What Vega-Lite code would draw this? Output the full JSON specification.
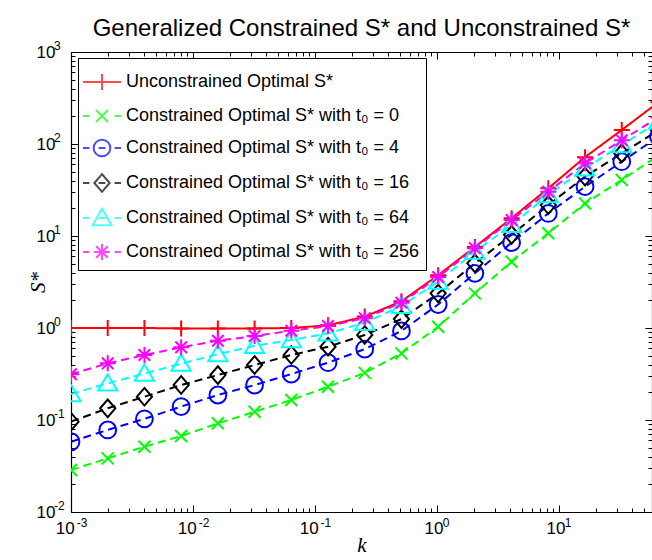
{
  "$schema": "https://vega.github.io/schema/vega-lite/v6.json",
  "width": 581,
  "height": 460,
  "autosize": {"type": "none"},
  "padding": {"left": 71, "top": 52, "right": 0, "bottom": 48},
  "title": {
    "text": "Generalized Constrained S* and Unconstrained S*",
    "font": "Liberation Sans",
    "fontSize": 24,
    "fontWeight": "normal",
    "color": "black",
    "anchor": "middle",
    "offset": -2
  },
  "data": {
    "values": [
      {"t0": "none", "k": 0.001, "s": 1.0}, {"t0": "none", "k": 0.002, "s": 1.0}, {"t0": "none", "k": 0.004, "s": 1.0}, {"t0": "none", "k": 0.008, "s": 0.99}, {"t0": "none", "k": 0.016, "s": 0.99}, {"t0": "none", "k": 0.032, "s": 0.99}, {"t0": "none", "k": 0.064, "s": 1.0}, {"t0": "none", "k": 0.128, "s": 1.07}, {"t0": "none", "k": 0.256, "s": 1.33}, {"t0": "none", "k": 0.512, "s": 1.95}, {"t0": "none", "k": 1.024, "s": 3.75}, {"t0": "none", "k": 2.048, "s": 7.6}, {"t0": "none", "k": 4.096, "s": 15.6}, {"t0": "none", "k": 8.192, "s": 33}, {"t0": "none", "k": 16.384, "s": 72}, {"t0": "none", "k": 32.768, "s": 142}, {"t0": "none", "k": 65.536, "s": 285},
      {"t0": "0", "k": 0.001, "s": 0.0286}, {"t0": "0", "k": 0.002, "s": 0.0383}, {"t0": "0", "k": 0.004, "s": 0.0513}, {"t0": "0", "k": 0.008, "s": 0.067}, {"t0": "0", "k": 0.016, "s": 0.092}, {"t0": "0", "k": 0.032, "s": 0.123}, {"t0": "0", "k": 0.064, "s": 0.165}, {"t0": "0", "k": 0.128, "s": 0.23}, {"t0": "0", "k": 0.256, "s": 0.325}, {"t0": "0", "k": 0.512, "s": 0.53}, {"t0": "0", "k": 1.024, "s": 1.03}, {"t0": "0", "k": 2.048, "s": 2.38}, {"t0": "0", "k": 4.096, "s": 5.26}, {"t0": "0", "k": 8.192, "s": 10.7}, {"t0": "0", "k": 16.384, "s": 22.6}, {"t0": "0", "k": 32.768, "s": 40.6}, {"t0": "0", "k": 65.536, "s": 75},
      {"t0": "4", "k": 0.001, "s": 0.058}, {"t0": "4", "k": 0.002, "s": 0.078}, {"t0": "4", "k": 0.004, "s": 0.103}, {"t0": "4", "k": 0.008, "s": 0.14}, {"t0": "4", "k": 0.016, "s": 0.187}, {"t0": "4", "k": 0.032, "s": 0.24}, {"t0": "4", "k": 0.064, "s": 0.316}, {"t0": "4", "k": 0.128, "s": 0.42}, {"t0": "4", "k": 0.256, "s": 0.59}, {"t0": "4", "k": 0.512, "s": 0.93}, {"t0": "4", "k": 1.024, "s": 1.8}, {"t0": "4", "k": 2.048, "s": 3.93}, {"t0": "4", "k": 4.096, "s": 8.47}, {"t0": "4", "k": 8.192, "s": 17.6}, {"t0": "4", "k": 16.384, "s": 34.4}, {"t0": "4", "k": 32.768, "s": 64.3}, {"t0": "4", "k": 65.536, "s": 120},
      {"t0": "16", "k": 0.001, "s": 0.096}, {"t0": "16", "k": 0.002, "s": 0.134}, {"t0": "16", "k": 0.004, "s": 0.179}, {"t0": "16", "k": 0.008, "s": 0.24}, {"t0": "16", "k": 0.016, "s": 0.308}, {"t0": "16", "k": 0.032, "s": 0.396}, {"t0": "16", "k": 0.064, "s": 0.509}, {"t0": "16", "k": 0.128, "s": 0.626}, {"t0": "16", "k": 0.256, "s": 0.84}, {"t0": "16", "k": 0.512, "s": 1.25}, {"t0": "16", "k": 1.024, "s": 2.38}, {"t0": "16", "k": 2.048, "s": 5.05}, {"t0": "16", "k": 4.096, "s": 10.3}, {"t0": "16", "k": 8.192, "s": 21.7}, {"t0": "16", "k": 16.384, "s": 44.2}, {"t0": "16", "k": 32.768, "s": 79}, {"t0": "16", "k": 65.536, "s": 141},
      {"t0": "64", "k": 0.001, "s": 0.192}, {"t0": "64", "k": 0.002, "s": 0.25}, {"t0": "64", "k": 0.004, "s": 0.32}, {"t0": "64", "k": 0.008, "s": 0.41}, {"t0": "64", "k": 0.016, "s": 0.52}, {"t0": "64", "k": 0.032, "s": 0.64}, {"t0": "64", "k": 0.064, "s": 0.74}, {"t0": "64", "k": 0.128, "s": 0.875}, {"t0": "64", "k": 0.256, "s": 1.14}, {"t0": "64", "k": 0.512, "s": 1.74}, {"t0": "64", "k": 1.024, "s": 3.2}, {"t0": "64", "k": 2.048, "s": 6.76}, {"t0": "64", "k": 4.096, "s": 13.2}, {"t0": "64", "k": 8.192, "s": 27.9}, {"t0": "64", "k": 16.384, "s": 54.4}, {"t0": "64", "k": 32.768, "s": 97.5}, {"t0": "64", "k": 65.536, "s": 175},
      {"t0": "256", "k": 0.001, "s": 0.314}, {"t0": "256", "k": 0.002, "s": 0.413}, {"t0": "256", "k": 0.004, "s": 0.509}, {"t0": "256", "k": 0.008, "s": 0.617}, {"t0": "256", "k": 0.016, "s": 0.728}, {"t0": "256", "k": 0.032, "s": 0.818}, {"t0": "256", "k": 0.064, "s": 0.935}, {"t0": "256", "k": 0.128, "s": 1.05}, {"t0": "256", "k": 0.256, "s": 1.28}, {"t0": "256", "k": 0.512, "s": 1.88}, {"t0": "256", "k": 1.024, "s": 3.58}, {"t0": "256", "k": 2.048, "s": 7.35}, {"t0": "256", "k": 4.096, "s": 14.9}, {"t0": "256", "k": 8.192, "s": 30.3}, {"t0": "256", "k": 16.384, "s": 61.7}, {"t0": "256", "k": 32.768, "s": 110}, {"t0": "256", "k": 65.536, "s": 195}
    ]
  },
  "config": {
    "view": {"stroke": null},
    "font": "Liberation Sans",
    "axis": {
      "grid": false,
      "domainColor": "black",
      "domainWidth": 1.2,
      "tickColor": "black",
      "tickWidth": 1,
      "labelColor": "black",
      "labelFont": "Liberation Sans",
      "labelFontSize": 17,
      "labelOverlap": false,
      "labelFlush": false,
      "titleColor": "black"
    }
  },
  "layer": [
    {
      "mark": {"type": "line", "strokeWidth": 2, "clip": true},
      "encoding": {
        "x": {
          "field": "k", "type": "quantitative",
          "scale": {"type": "log", "domain": [0.001, 58], "nice": false},
          "axis": {
            "orient": "bottom",
            "values": [0.001, 0.002, 0.003, 0.004, 0.005, 0.006, 0.007, 0.008, 0.009, 0.01, 0.02, 0.03, 0.04, 0.05, 0.06, 0.07, 0.08, 0.09, 0.1, 0.2, 0.3, 0.4, 0.5, 0.6, 0.7, 0.8, 0.9, 1, 2, 3, 4, 5, 6, 7, 8, 9, 10, 20, 30, 40, 50],
            "labelExpr": "indexof([0.001, 0.01, 0.1, 1, 10], datum.value) >= 0 ? '10' : ''",
            "labelOffset": {"condition": {"test": "datum.value < 1", "value": -6.3}, "value": -3.4},
            "tickSize": {"condition": {"test": "indexof([0.001, 0.01, 0.1, 1, 10], datum.value) >= 0", "value": -7}, "value": -4},
            "labelPadding": 15.5,
            "title": "k",
            "titleFont": "Liberation Serif",
            "titleFontStyle": "italic",
            "titleFontWeight": "normal",
            "titleFontSize": 21,
            "titlePadding": -5
          }
        },
        "y": {
          "field": "s", "type": "quantitative",
          "scale": {"type": "log", "domain": [0.01, 1000], "nice": false},
          "axis": {
            "orient": "left",
            "values": [0.01, 0.02, 0.03, 0.04, 0.05, 0.06, 0.07, 0.08, 0.09, 0.1, 0.2, 0.3, 0.4, 0.5, 0.6, 0.7, 0.8, 0.9, 1, 2, 3, 4, 5, 6, 7, 8, 9, 10, 20, 30, 40, 50, 60, 70, 80, 90, 100, 200, 300, 400, 500, 600, 700, 800, 900, 1000],
            "labelExpr": "indexof([0.01, 0.1, 1, 10, 100, 1000], datum.value) >= 0 ? '10' : ''",
            "tickSize": {"condition": {"test": "indexof([0.01, 0.1, 1, 10, 100, 1000], datum.value) >= 0", "value": -7}, "value": -4},
            "labelPadding": 23,
            "title": "S*",
            "titleFont": "Liberation Serif",
            "titleFontStyle": "italic",
            "titleFontWeight": "normal",
            "titleFontSize": 21,
            "titlePadding": -12
          }
        },
        "detail": {"field": "t0"},
        "color": {
          "field": "t0", "type": "nominal",
          "scale": {"domain": ["none", "0", "4", "16", "64", "256"], "range": ["#ff0000", "#00ff00", "#0000ff", "#000000", "#00ffff", "#ff00ff"]},
          "legend": null
        },
        "strokeDash": {
          "field": "t0", "type": "nominal",
          "scale": {"domain": ["none", "0", "4", "16", "64", "256"], "range": [[1, 0], [8, 5], [8, 5], [8, 5], [8, 5], [8, 5]]},
          "legend": null
        }
      }
    },
    {
      "mark": {"type": "point", "filled": false, "strokeWidth": 2, "size": 256, "opacity": 1, "clip": true},
      "encoding": {
        "x": {
          "field": "k", "type": "quantitative",
          "scale": {"type": "log", "domain": [0.001, 58], "nice": false},
          "axis": {
            "orient": "top",
            "values": [0.001, 0.002, 0.003, 0.004, 0.005, 0.006, 0.007, 0.008, 0.009, 0.01, 0.02, 0.03, 0.04, 0.05, 0.06, 0.07, 0.08, 0.09, 0.1, 0.2, 0.3, 0.4, 0.5, 0.6, 0.7, 0.8, 0.9, 1, 2, 3, 4, 5, 6, 7, 8, 9, 10, 20, 30, 40, 50],
            "labels": false,
            "tickSize": {"condition": {"test": "indexof([0.001, 0.01, 0.1, 1, 10], datum.value) >= 0", "value": -7}, "value": -4},
            "title": null
          }
        },
        "y": {
          "field": "s", "type": "quantitative",
          "scale": {"type": "log", "domain": [0.01, 1000], "nice": false},
          "axis": {
            "orient": "right",
            "values": [0.01, 0.02, 0.03, 0.04, 0.05, 0.06, 0.07, 0.08, 0.09, 0.1, 0.2, 0.3, 0.4, 0.5, 0.6, 0.7, 0.8, 0.9, 1, 2, 3, 4, 5, 6, 7, 8, 9, 10, 20, 30, 40, 50, 60, 70, 80, 90, 100, 200, 300, 400, 500, 600, 700, 800, 900, 1000],
            "labels": false,
            "tickSize": {"condition": {"test": "indexof([0.01, 0.1, 1, 10, 100, 1000], datum.value) >= 0", "value": -7}, "value": -4},
            "title": null
          }
        },
        "color": {
          "field": "t0", "type": "nominal",
          "scale": {"domain": ["none", "0", "4", "16", "64", "256"], "range": ["#ff0000", "#00ff00", "#0000ff", "#000000", "#00ffff", "#ff00ff"]},
          "legend": null
        },
        "shape": {
          "field": "t0", "type": "nominal",
          "scale": {
            "domain": ["none", "0", "4", "16", "64", "256"],
            "range": [
              "M-1,0L1,0M0,-1L0,1",
              "M-0.75,-0.75L0.75,0.75M-0.75,0.75L0.75,-0.75",
              "M-1.05,0A1.05,1.05 0 1,1 1.05,0A1.05,1.05 0 1,1 -1.05,0Z",
              "M0,-1.1L0.95,0L0,1.1L-0.95,0Z",
              "M0,-1.15L1.2,0.9L-1.2,0.9Z",
              "M-1,0L1,0M0,-1L0,1M-0.72,-0.72L0.72,0.72M-0.72,0.72L0.72,-0.72"
            ]
          },
          "legend": null
        }
      }
    },
    {
      "transform": [{"filter": "false"}],
      "mark": {"type": "point", "filled": false, "strokeWidth": 2},
      "encoding": {
        "x": {
          "field": "k", "type": "quantitative",
          "scale": {"type": "log", "domain": [0.001, 58], "nice": false},
          "axis": {
            "orient": "bottom",
            "values": [0.001, 0.01, 0.1, 1, 10],
            "domain": false,
            "tickSize": -4,
            "tickOpacity": 0,
            "labelExpr": "datum.value == 0.001 ? '-3' : datum.value == 0.01 ? '-2' : datum.value == 0.1 ? '-1' : datum.value == 1 ? '0' : '1'",
            "labelFontSize": 12,
            "labelOffset": {"condition": {"test": "datum.value < 1", "value": 10.5}, "value": 8.6},
            "labelPadding": 9.5,
            "title": null
          }
        },
        "y": {
          "field": "s", "type": "quantitative",
          "scale": {"type": "log", "domain": [0.01, 1000], "nice": false},
          "axis": {
            "orient": "left",
            "values": [0.01, 0.1, 1, 10, 100, 1000],
            "domain": false,
            "tickSize": -4,
            "tickOpacity": 0,
            "labelExpr": "datum.value == 0.01 ? '-2' : datum.value == 0.1 ? '-1' : datum.value == 1 ? '0' : datum.value == 10 ? '1' : datum.value == 100 ? '2' : '3'",
            "labelFontSize": 12,
            "labelAlign": "left",
            "labelOffset": -7,
            "labelPadding": 21.5,
            "title": null
          }
        },
        "color": {
          "field": "t0", "type": "nominal",
          "scale": {"domain": ["none", "0", "4", "16", "64", "256"], "range": ["#ff0000", "#00ff00", "#0000ff", "#000000", "#00ffff", "#ff00ff"]},
          "legend": {
            "title": null,
            "orient": "none",
            "legendX": 7,
            "legendY": 6,
            "labelExpr": "datum.label == 'none' ? 'Unconstrained Optimal S*' : 'Constrained Optimal S* with t₀ = ' + datum.label",
            "labelFont": "Liberation Sans",
            "labelFontSize": 18,
            "labelColor": "black",
            "labelLimit": 0,
            "labelOffset": 6,
            "symbolSize": 1156,
            "symbolStrokeWidth": 2,
            "rowPadding": 4,
            "padding": 6,
            "strokeColor": "black",
            "fillColor": "white"
          }
        },
        "shape": {
          "field": "t0", "type": "nominal",
          "scale": {
            "domain": ["none", "0", "4", "16", "64", "256"],
            "range": [
              "M-1.12,0L1.12,0M0,-0.47L0,0.47",
              "M-1.12,0L-0.74,0M0.74,0L1.12,0M-0.35,-0.35L0.35,0.35M-0.35,0.35L0.35,-0.35",
              "M-1.12,0L-0.74,0M-0.2,0L0.2,0M0.74,0L1.12,0M-0.49,0A0.49,0.49 0 1,1 0.49,0A0.49,0.49 0 1,1 -0.49,0Z",
              "M-1.12,0L-0.74,0M-0.2,0L0.2,0M0.74,0L1.12,0M0,-0.52L0.45,0L0,0.52L-0.45,0Z",
              "M-1.12,0L-0.74,0M-0.2,0L0.2,0M0.74,0L1.12,0M0,-0.54L0.56,0.42L-0.56,0.42Z",
              "M-1.12,0L-0.74,0M0.74,0L1.12,0M-0.47,0L0.47,0M0,-0.47L0,0.47M-0.34,-0.34L0.34,0.34M-0.34,0.34L0.34,-0.34"
            ]
          },
          "legend": {
            "title": null,
            "orient": "none",
            "legendX": 7,
            "legendY": 6,
            "labelExpr": "datum.label == 'none' ? 'Unconstrained Optimal S*' : 'Constrained Optimal S* with t₀ = ' + datum.label",
            "labelFont": "Liberation Sans",
            "labelFontSize": 18,
            "labelColor": "black",
            "labelLimit": 0,
            "labelOffset": 6,
            "symbolSize": 1156,
            "symbolStrokeWidth": 2,
            "rowPadding": 4,
            "padding": 6,
            "strokeColor": "black",
            "fillColor": "white"
          }
        }
      }
    }
  ],
  "resolve": {
    "scale": {"shape": "independent", "color": "independent"},
    "axis": {"x": "independent", "y": "independent"}
  }
}
